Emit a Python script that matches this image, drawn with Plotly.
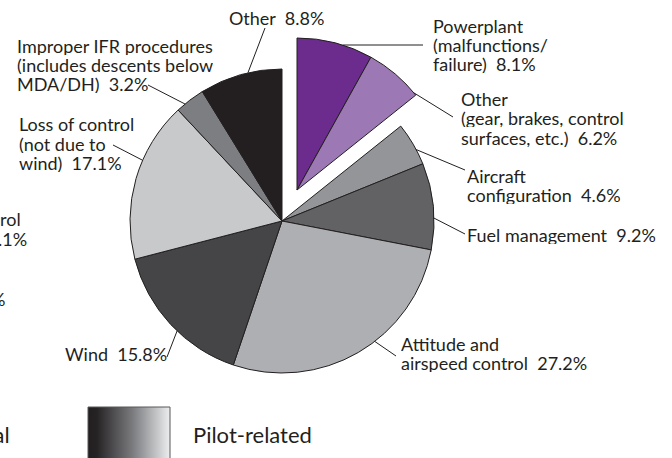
import math
import plotly.graph_objects as go

W, H = 672, 458

# ---------------- data ----------------
labels = [
    "Powerplant (malfunctions/failure)",
    "Other (gear, brakes, control surfaces, etc.)",
    "Aircraft configuration",
    "Fuel management",
    "Attitude and airspeed control",
    "Wind",
    "Loss of control (not due to wind)",
    "Improper IFR procedures (includes descents below MDA/DH)",
    "Other",
]
values = [8.1, 6.2, 4.6, 9.2, 27.2, 15.8, 17.1, 3.2, 8.8]
groups = ["Mechanical", "Mechanical", "Pilot-related", "Pilot-related", "Pilot-related",
          "Pilot-related", "Pilot-related", "Pilot-related", "Pilot-related"]
label_lines = [
    ["Powerplant", "(malfunctions/", "failure)"],
    ["Other", "(gear, brakes, control", "surfaces, etc.)"],
    ["Aircraft", "configuration"],
    ["Fuel management"],
    ["Attitude and", "airspeed control"],
    ["Wind"],
    ["Loss of control", "(not due to", "wind)"],
    ["Improper IFR procedures", "(includes descents below", "MDA/DH)"],
    ["Other"],
]
legend_labels = ["Mechanical", "Pilot-related"]
edge_fragments = ["rol", ".1%", "%"]   # text of a neighbouring figure, cut by the frame

# ---------------- style / layout ----------------
slice_colors = ["#6b2c8e", "#9c79b4", "#949598", "#626264", "#aeafb2",
                "#454547", "#c8c9cb", "#7d7e81", "#231f20"]
INK = "#231f20"
FONT = "Lato"
FS = 18
CX, CY, R = 282, 221, 152          # pie centre / radius in px
EXPLODE = (15, -31)                # px offset of the exploded mechanical group
LINE_STEP = 19.3

# per label: fraction along slice for leader anchor, leader end (px), text left x, first line centre y
label_pos = [
    (0.60, (423, None), 432, 25.5),
    (0.95, (453, 117), 460, 99),
    (0.64, (465, 170), 466, 176),
    (0.635, (465, 234), 466, 235),
    (0.424, (396, 356), 400, 343.5),
    (0.44, (167, 357), 64, 354),
    (0.62, (113, 145), 18, 124.5),
    (0.30, (148, 85), 16, 45.5),
    (0.59, (265, 28), 228, 18),
]
fragment_pos = [(23, 219), (29, 239), (7, 298.5)]
legend_text_pos = [(12, 434), (191, 434)]
swatch = (88, 170, 407)


def px_x(x):
    return x / W


def px_y(y):
    return 1 - y / H


def domain(cx, cy):
    return dict(x=[px_x(cx - R), px_x(cx + R)], y=[px_y(cy + R), px_y(cy - R)])


mech = [g == "Mechanical" for g in groups]
clear = "rgba(0,0,0,0)"

fig = go.Figure()
# pilot-related part of the pie
fig.add_trace(go.Pie(
    labels=labels, values=values, sort=False, direction="clockwise", rotation=0,
    marker=dict(colors=[clear if m else c for m, c in zip(mech, slice_colors)],
                line=dict(color=INK, width=[0 if m else 1 for m in mech])),
    textinfo="none", showlegend=False, hoverinfo="label+value",
    domain=domain(CX, CY),
))
# exploded mechanical group
ECX, ECY = CX + EXPLODE[0], CY + EXPLODE[1]
fig.add_trace(go.Pie(
    labels=labels, values=values, sort=False, direction="clockwise", rotation=0,
    marker=dict(colors=[c if m else clear for m, c in zip(mech, slice_colors)],
                line=dict(color=INK, width=[1 if m else 0 for m in mech])),
    textinfo="none", showlegend=False, hoverinfo="label+value",
    domain=domain(ECX, ECY),
))

# legend swatch (pilot-related gradient)
fig.add_trace(go.Heatmap(
    z=[[0, 1]], x=[0, 1], y=[0], zsmooth="best", showscale=False, hoverinfo="skip",
    colorscale=[[0, "#231f20"], [0.1, "#262324"], [0.55, "#7d7e81"], [1, "#eeeff0"]],
    xaxis="x", yaxis="y",
))

total = sum(values)
starts = []
acc = 0
for v in values:
    starts.append(acc)
    acc += v

annotations = []
shapes = []
for i, (lines, v) in enumerate(zip(label_lines, values)):
    frac, end, tx, ty = label_pos[i]
    a = 360 * (starts[i] + frac * v) / total
    cx, cy = (ECX, ECY) if mech[i] else (CX, CY)
    ax = cx + R * math.sin(math.radians(a))
    ay = cy - R * math.cos(math.radians(a))
    ex, ey = end
    if ey is None:
        ey = ay
    shapes.append(dict(type="line", xref="paper", yref="paper",
                       x0=px_x(ax), y0=px_y(ay), x1=px_x(ex), y1=px_y(ey),
                       line=dict(color=INK, width=1)))
    txt = list(lines)
    txt[-1] = txt[-1] + "\u00a0\u00a0" + f"{v}%"
    for k, t in enumerate(txt):
        annotations.append(dict(text=t, x=px_x(tx), y=px_y(ty + k * LINE_STEP),
                                xref="paper", yref="paper", xanchor="left", yanchor="middle",
                                height=18, borderpad=0,
                                showarrow=False, font=dict(family=FONT, size=FS, color=INK)))

for t, (x, y) in zip(edge_fragments, fragment_pos):
    annotations.append(dict(text=t, x=px_x(x), y=px_y(y), xref="paper", yref="paper",
                            xanchor="right", yanchor="middle", showarrow=False,
                            font=dict(family=FONT, size=FS, color=INK)))

annotations.append(dict(text=legend_labels[0], x=px_x(legend_text_pos[0][0]), y=px_y(legend_text_pos[0][1]),
                        xref="paper", yref="paper", xanchor="right", yanchor="middle", showarrow=False,
                        font=dict(family=FONT, size=22, color=INK)))
annotations.append(dict(text=legend_labels[1], x=px_x(legend_text_pos[1][0]), y=px_y(legend_text_pos[1][1]),
                        xref="paper", yref="paper", xanchor="left", yanchor="middle", showarrow=False,
                        font=dict(family=FONT, size=22, color=INK)))

sx0, sx1, sy0 = swatch
shapes.append(dict(type="rect", xref="paper", yref="paper", x0=px_x(sx0), x1=px_x(sx1),
                   y0=-0.05, y1=px_y(sy0), line=dict(color="#58595b", width=1)))

fig.update_layout(
    width=W, height=H, margin=dict(l=0, r=0, t=0, b=0),
    paper_bgcolor="white", plot_bgcolor="white",
    xaxis=dict(domain=[px_x(sx0), px_x(sx1)], range=[0, 1], visible=False, fixedrange=True),
    yaxis=dict(domain=[0, px_y(sy0)], range=[-0.5, 0.5], visible=False, fixedrange=True),
    annotations=annotations, shapes=shapes, showlegend=False,
)

fig.write_html("out.html", config={"displayModeBar": False},
               post_script="document.body.style.margin='0';")
